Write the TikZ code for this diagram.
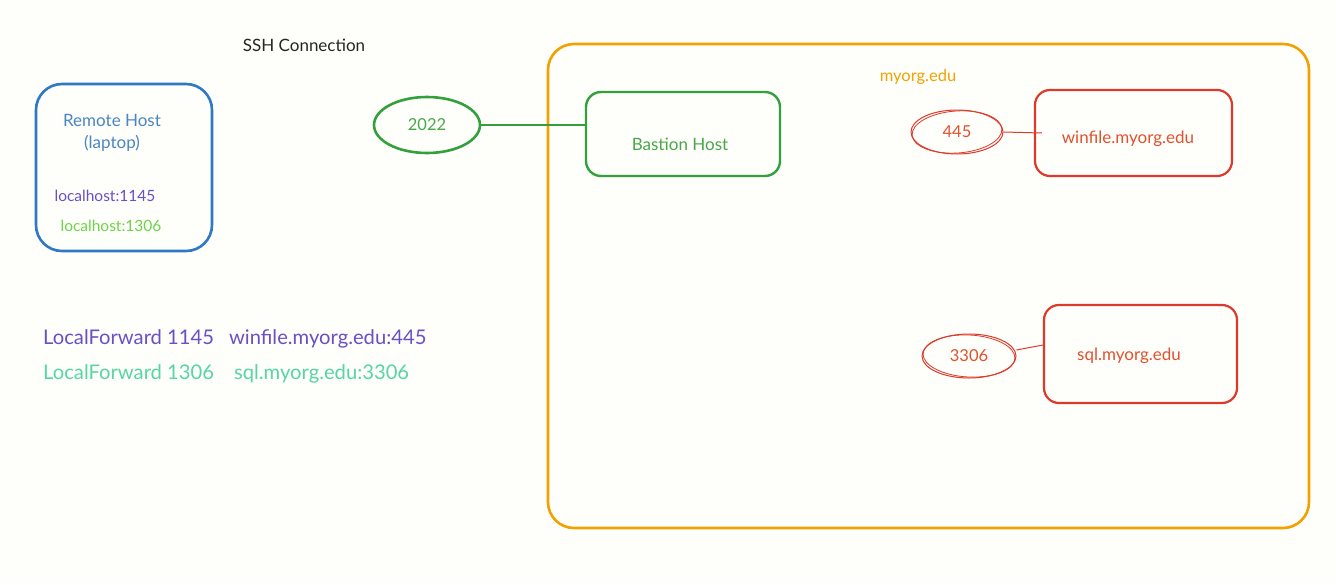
\documentclass[tikz,border=0pt]{standalone}
\usepackage{fontspec}
\setmainfont{Lato}
\usetikzlibrary{shapes.geometric}
\definecolor{bg}{HTML}{FEFEFB}
\definecolor{cblue}{HTML}{2F78C4}
\definecolor{tblue}{HTML}{4A86C0}
\definecolor{cpurple}{HTML}{6A50C4}
\definecolor{cgreen}{HTML}{34A03C}
\definecolor{tgreen}{HTML}{48A848}
\definecolor{lgreen}{HTML}{6CD448}
\definecolor{mint}{HTML}{58D6A2}
\definecolor{corange}{HTML}{F2A100}
\definecolor{cred}{HTML}{DC3A2A}
\definecolor{tred}{HTML}{E0522E}
\begin{document}
\begin{tikzpicture}[x=1pt,y=-1pt,
  box/.style={draw,rounded corners=#1,inner sep=0pt},
  lbl/.style={inner sep=0pt,font=\fontsize{17}{20}\selectfont},
  sml/.style={inner sep=0pt,font=\fontsize{15.5}{18}\selectfont},
  big/.style={inner sep=0pt,anchor=west,font=\fontsize{20.2}{24}\selectfont},
  port/.style={ellipse,draw,inner sep=0pt,font=\fontsize{16.5}{18}\selectfont}]
\fill[bg] (0,0) rectangle (1336,584);
\useasboundingbox (0,0) rectangle (1336,584);
% orange domain
\node[box=26pt,corange,line width=2.6pt,minimum width=761pt,minimum height=484pt] (org) at (928.5,286) {};
\node[lbl,corange,font=\fontsize{16.5}{18}\selectfont] (orgl) at (918,77) {myorg.edu};
% remote host
\node[box=26pt,cblue,line width=2.6pt,minimum width=176pt,minimum height=167pt] (remote) at (124,167.5) {};
\node[lbl,tblue] (rh1) at (112,120) {Remote Host};
\node[lbl,tblue] (rh2) at (112,143) {(laptop)};
\node[sml,cpurple] (lh1) at (105,196) {localhost:1145};
\node[sml,lgreen] (lh2) at (111,226) {localhost:1306};
% ssh
\node[lbl,black!85] (ssh) at (304,45) {SSH Connection};
\node[port,cgreen,line width=2.6pt,minimum width=106pt,minimum height=56pt,text=tgreen] (e2022) at (427,125) {2022};
\node[box=15pt,cgreen,line width=2.4pt,minimum width=194pt,minimum height=84pt] (bastion) at (683,134) {};
\node[lbl,tgreen] (bl) at (680,144) {Bastion Host};
\draw[cgreen,line width=2.6pt] (e2022.east) -- (e2022.east -| bastion.west);
% winfile
\node[box=15pt,cred,line width=2.2pt,minimum width=197pt,minimum height=86pt] (winfile) at (1133.5,133) {};
\node[lbl,tred] (wl) at (1128,139) {winfile.myorg.edu};
\node[port,cred,line width=1pt,minimum width=92pt,minimum height=44pt,text=tred] (e445) at (957,132) {445};
\draw[cred,line width=0.8pt,rotate around={4:(e445.center)}] (e445.center) ellipse [x radius=45, y radius=21];
\draw[cred,line width=1pt] (e445.east) -- ([xshift=8pt]winfile.west);
% sql
\node[box=15pt,cred,line width=2.2pt,minimum width=193pt,minimum height=98pt] (sql) at (1140.5,354) {};
\node[lbl,tred] (sl) at (1129,356) {sql.myorg.edu};
\node[port,cred,line width=1pt,minimum width=94pt,minimum height=44pt,text=tred] (e3306) at (969,356) {3306};
\draw[cred,line width=0.8pt,rotate around={-3:(e3306.center)}] (e3306.center) ellipse [x radius=46, y radius=21];
\draw[cred,line width=1pt] ([yshift=6pt]e3306.east) -- ([yshift=9pt]sql.west);
% config lines
\node[big,cpurple] (lf1) at (43,339) {LocalForward 1145\hspace{15pt}winfile.myorg.edu:445};
\node[big,mint] (lf2) at (43,374) {LocalForward 1306\hspace{20pt}sql.myorg.edu:3306};
\end{tikzpicture}
\end{document}
